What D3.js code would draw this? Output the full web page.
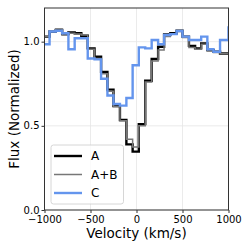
<!DOCTYPE html>
<html>
<head>
<meta charset="utf-8">
<script src="https://cdn.jsdelivr.net/npm/d3@7"></script>
<style>
  body { margin: 0; background: #fff; }
  text { font-family: "DejaVu Sans", sans-serif; fill: #000; }
</style>
</head>
<body>
<div id="container"></div>
<script>
// bin edges (km/s), one more than the number of values
const velocityEdges = [-1040, -945, -878, -808, -740, -672, -600, -530, -456, -385, -316,
  -250, -180, -110, -42, 25, 95, 165, 235, 300, 368, 436, 500, 570, 637, 703, 770, 837, 908, 1000, 1060];
const fluxA = [1.03, 1.06, 1.07, 1.045, 1.055, 1.05, 1.035, 0.96, 0.91, 0.82, 0.715,
  0.617, 0.535, 0.39, 0.347, 0.51, 0.768, 0.897, 0.97, 1.043, 1.05, 1.065, 1.03, 0.975,
  0.96, 0.99, 0.95, 0.94, 0.93, 0.93];
const fluxAB = [1.03, 1.065, 1.075, 1.04, 1.05, 1.045, 1.04, 0.955, 0.9, 0.81, 0.705,
  0.615, 0.53, 0.42, 0.375, 0.5, 0.76, 0.885, 0.95, 1.03, 1.045, 1.06, 1.025, 0.965,
  0.955, 0.985, 0.945, 0.935, 0.93, 0.93];
const fluxC = [0.985, 1.06, 1.065, 1.05, 0.955, 1.02, 1.02, 0.9, 0.895, 0.78, 0.68,
  0.63, 0.62, 0.665, 0.86, 0.966, 0.96, 1.01, 0.985, 1.04, 1.045, 1.063, 1.03, 1.01,
  1.01, 1.03, 0.955, 0.94, 1.01, 1.085];
const xTicks = [-1000, -500, 0, 500, 1000];
const yTicks = [0, 0.5, 1.0];
const seriesNames = ["A", "A+B", "C"];

const W = 249, H = 249;
const margin = { top: 8, right: 20.5, bottom: 39, left: 44.5 };
const width = W - margin.left - margin.right,
  height = H - margin.top - margin.bottom;

const svg = d3.select("#container").append("svg")
  .attr("width", W).attr("height", H);

const x = d3.scaleLinear().domain([-1000, 1000]).range([0, width]);
const y = d3.scaleLinear().domain([0, 1.2]).range([height, 0]);

const g = svg.append("g")
  .attr("transform", `translate(${margin.left},${margin.top})`);

svg.append("defs").append("clipPath").attr("id", "clip")
  .append("rect").attr("width", width).attr("height", height);

// grid
g.append("g").selectAll("line").data(xTicks).enter().append("line")
  .attr("x1", d => x(d)).attr("x2", d => x(d))
  .attr("y1", 0).attr("y2", height)
  .attr("stroke", "#e6e6e6").attr("stroke-width", 0.8);
g.append("g").selectAll("line").data(yTicks).enter().append("line")
  .attr("y1", d => y(d)).attr("y2", d => y(d))
  .attr("x1", 0).attr("x2", width)
  .attr("stroke", "#e6e6e6").attr("stroke-width", 0.8);

// step lines
const stepLine = d3.line()
  .x(d => x(d[0])).y(d => y(d[1]))
  .curve(d3.curveStepAfter);
const toPoints = vals => velocityEdges.map((e, i) => [e, vals[Math.min(i, vals.length - 1)]]);

const series = [
  { name: seriesNames[0], vals: fluxA, color: "#000000", w: 2.4 },
  { name: seriesNames[1], vals: fluxAB, color: "#777777", w: 1.5 },
  { name: seriesNames[2], vals: fluxC, color: "#6495ed", w: 2.4 }
];
const lines = g.append("g").attr("clip-path", "url(#clip)");
series.forEach(s => {
  lines.append("path")
    .attr("d", stepLine(toPoints(s.vals)))
    .attr("fill", "none")
    .attr("stroke", s.color)
    .attr("stroke-width", s.w)
    .attr("stroke-linejoin", "miter");
});

// axes
const xAxis = d3.axisBottom(x).tickValues(xTicks).tickSize(3).tickPadding(2.5)
  .tickFormat(d => d < 0 ? "\u2212" + Math.abs(d) : d);
const yAxis = d3.axisLeft(y).tickValues(yTicks).tickSize(3).tickPadding(2)
  .tickFormat(d3.format(".1f"));
const gx = g.append("g").attr("transform", `translate(0,${height})`).call(xAxis);
const gy = g.append("g").call(yAxis);
[gx, gy].forEach(a => {
  a.select(".domain").remove();
  a.selectAll("line").attr("stroke", "#333");
  a.selectAll("text").style("font-size", "10px").style("font-family", "DejaVu Sans");
});
gy.selectAll("text").attr("dy", "0.3em");

g.append("rect").attr("width", width).attr("height", height)
  .attr("fill", "none").attr("stroke", "#333").attr("stroke-width", 1);

// labels
svg.append("text")
  .attr("x", margin.left + width / 2).attr("y", 237.5)
  .attr("text-anchor", "middle").style("font-size", "13.5px")
  .text("Velocity (km/s)");
svg.append("text")
  .attr("transform", `translate(18.5,${margin.top + height / 2}) rotate(-90)`)
  .attr("text-anchor", "middle").style("font-size", "13.5px")
  .text("Flux (Normalized)");

// legend
const legend = g.append("g").attr("transform", "translate(6.5,137)");
legend.append("rect")
  .attr("width", 72.5).attr("height", 59).attr("rx", 2.5)
  .attr("fill", "#fff").attr("fill-opacity", 0.8)
  .attr("stroke", "#cccccc").attr("stroke-width", 0.8);
series.forEach((s, i) => {
  const ly = 11 + i * 18.5;
  legend.append("line")
    .attr("x1", 3).attr("x2", 31).attr("y1", ly).attr("y2", ly)
    .attr("stroke", s.color).attr("stroke-width", s.w);
  legend.append("text")
    .attr("x", 40).attr("y", ly + 4.3)
    .style("font-size", "12px")
    .text(s.name);
});
</script>
</body>
</html>
